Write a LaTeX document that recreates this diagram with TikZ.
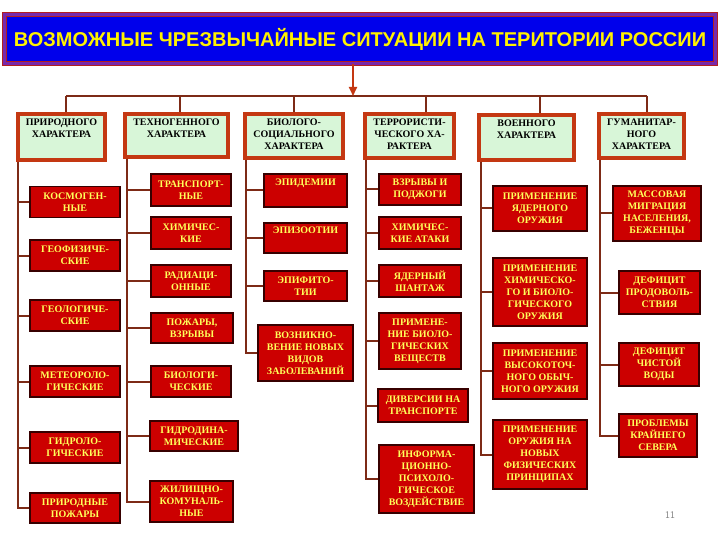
\documentclass[tikz,border=0pt]{standalone}
\usepackage{fontspec}
\setmainfont{Liberation Serif}
\newfontfamily\titlefont{Liberation Sans}
\usetikzlibrary{arrows.meta}

\definecolor{titleblue}{RGB}{0,0,235}
\definecolor{titlered}{RGB}{180,30,30}
\definecolor{titleviolet}{RGB}{120,40,170}
\definecolor{catgreen}{RGB}{216,246,216}
\definecolor{catframe}{RGB}{196,56,18}
\definecolor{boxred}{RGB}{204,0,0}
\definecolor{boxedge}{RGB}{55,0,0}
\definecolor{boxtext}{RGB}{255,255,90}
\definecolor{linkbrown}{RGB}{125,42,22}

\newcommand{\busY}{96}
\newcommand{\boxfont}{\bfseries\fontsize{10}{12}\selectfont}

\tikzset{
  titlebox/.style={fill=titleblue, draw=titlered, double=titleviolet, double distance=2.5pt,
                   line width=1pt, text=yellow, font=\titlefont\bfseries\fontsize{20}{24}\selectfont},
  catbox/.style={fill=catgreen, draw=catframe, line width=3.8pt},
  cattext/.style={anchor=north, yshift=-3pt, align=center, text=black, font=\boxfont},
  subbox/.style={fill=boxred, draw=boxedge, line width=1.8pt, text=boxtext,
                 align=center, inner sep=1pt, font=\boxfont},
  topline/.style={text depth=16pt},
  link/.style={draw=linkbrown, line width=2pt},
  arrowlink/.style={draw=catframe, line width=2pt, -{Triangle[width=8pt,length=9pt]}},
  pagenum/.style={text=gray, font=\sffamily\fontsize{10}{12}\selectfont}
}

\begin{document}
\begin{tikzpicture}[x=1pt, y=-1pt]

  \fill[white] (0,0) rectangle (720,540);
  \useasboundingbox (0,0) rectangle (720,540);

  % Title:
  \node[titlebox, minimum width=711pt, minimum height=49pt] (title) at (360,39)
    {ВОЗМОЖНЫЕ ЧРЕЗВЫЧАЙНЫЕ СИТУАЦИИ НА ТЕРИТОРИИ РОССИИ};

  % Categories:
  \node[catbox, minimum width=87pt,  minimum height=46pt, label={[cattext]north:ПРИРОДНОГО\\ХАРАКТЕРА}] (c1) at (61.5,137) {};
  \node[catbox, minimum width=103pt, minimum height=43pt, label={[cattext]north:ТЕХНОГЕННОГО\\ХАРАКТЕРА}] (c2) at (176.5,135.5) {};
  \node[catbox, minimum width=98pt,  minimum height=44pt, label={[cattext]north:БИОЛОГО-\\СОЦИАЛЬНОГО\\ХАРАКТЕРА}] (c3) at (294,136) {};
  \node[catbox, minimum width=89pt,  minimum height=44pt, label={[cattext]north:ТЕРРОРИСТИ-\\ЧЕСКОГО ХА-\\РАКТЕРА}] (c4) at (409.5,136) {};
  \node[catbox, minimum width=95pt,  minimum height=45pt, label={[cattext]north:ВОЕННОГО\\ХАРАКТЕРА}] (c5) at (526.5,137.5) {};
  \node[catbox, minimum width=85pt,  minimum height=44pt, label={[cattext]north:ГУМАНИТАР-\\НОГО\\ХАРАКТЕРА}] (c6) at (641.5,136) {};

  % Natural:
  \node[subbox, minimum width=90pt, minimum height=31pt] (k1) at (75,202)   {КОСМОГЕН-\\НЫЕ};
  \node[subbox, minimum width=90pt, minimum height=31pt] (k2) at (75,255.5) {ГЕОФИЗИЧЕ-\\СКИЕ};
  \node[subbox, minimum width=90pt, minimum height=31pt] (k3) at (75,315.5) {ГЕОЛОГИЧЕ-\\СКИЕ};
  \node[subbox, minimum width=90pt, minimum height=31pt] (k4) at (75,381.5) {МЕТЕОРОЛО-\\ГИЧЕСКИЕ};
  \node[subbox, minimum width=90pt, minimum height=31pt] (k5) at (75,447.5) {ГИДРОЛО-\\ГИЧЕСКИЕ};
  \node[subbox, minimum width=90pt, minimum height=30pt] (k6) at (75,508)   {ПРИРОДНЫЕ\\ПОЖАРЫ};

  % Technogenic:
  \node[subbox, minimum width=80pt, minimum height=32pt] (t1) at (191,190)    {ТРАНСПОРТ-\\НЫЕ};
  \node[subbox, minimum width=80pt, minimum height=32pt] (t2) at (191,233)    {ХИМИЧЕС-\\КИЕ};
  \node[subbox, minimum width=80pt, minimum height=32pt] (t3) at (191,281)    {РАДИАЦИ-\\ОННЫЕ};
  \node[subbox, minimum width=82pt, minimum height=30pt] (t4) at (192,328)    {ПОЖАРЫ,\\ВЗРЫВЫ};
  \node[subbox, minimum width=80pt, minimum height=31pt] (t5) at (191,381.5)  {БИОЛОГИ-\\ЧЕСКИЕ};
  \node[subbox, minimum width=88pt, minimum height=30pt] (t6) at (194,436)    {ГИДРОДИНА-\\МИЧЕСКИЕ};
  \node[subbox, minimum width=83pt, minimum height=41pt] (t7) at (191.5,501.5){ЖИЛИЩНО-\\КОМУНАЛЬ-\\НЫЕ};

  % Bio-social:
  \node[subbox, topline, minimum width=83pt, minimum height=33pt] (b1) at (305.5,190.5) {ЭПИДЕМИИ};
  \node[subbox, topline, minimum width=83pt, minimum height=30pt] (b2) at (305.5,238)   {ЭПИЗООТИИ};
  \node[subbox, minimum width=83pt, minimum height=30pt] (b3) at (305.5,286)   {ЭПИФИТО-\\ТИИ};
  \node[subbox, minimum width=95pt, minimum height=56pt] (b4) at (305.5,353)   {ВОЗНИКНО-\\ВЕНИЕ НОВЫХ\\ВИДОВ\\ЗАБОЛЕВАНИЙ};

  % Terrorist:
  \node[subbox, minimum width=82pt, minimum height=31pt] (r1) at (420,189.5) {ВЗРЫВЫ И\\ПОДЖОГИ};
  \node[subbox, minimum width=82pt, minimum height=32pt] (r2) at (420,233)   {ХИМИЧЕС-\\КИЕ АТАКИ};
  \node[subbox, minimum width=82pt, minimum height=32pt] (r3) at (420,281)   {ЯДЕРНЫЙ\\ШАНТАЖ};
  \node[subbox, minimum width=82pt, minimum height=56pt] (r4) at (420,341)   {ПРИМЕНЕ-\\НИЕ БИОЛО-\\ГИЧЕСКИХ\\ВЕЩЕСТВ};
  \node[subbox, minimum width=90pt, minimum height=33pt] (r5) at (423,405.5) {ДИВЕРСИИ НА\\ТРАНСПОРТЕ};
  \node[subbox, minimum width=95pt, minimum height=68pt] (r6) at (426.5,479) {ИНФОРМА-\\ЦИОННО-\\ПСИХОЛО-\\ГИЧЕСКОЕ\\ВОЗДЕЙСТВИЕ};

  % Military:
  \node[subbox, minimum width=94pt, minimum height=45pt] (m1) at (540,208.5) {ПРИМЕНЕНИЕ\\ЯДЕРНОГО\\ОРУЖИЯ};
  \node[subbox, minimum width=94pt, minimum height=68pt] (m2) at (540,292)   {ПРИМЕНЕНИЕ\\ХИМИЧЕСКО-\\ГО И БИОЛО-\\ГИЧЕСКОГО\\ОРУЖИЯ};
  \node[subbox, minimum width=94pt, minimum height=56pt] (m3) at (540,371)   {ПРИМЕНЕНИЕ\\ВЫСОКОТОЧ-\\НОГО ОБЫЧ-\\НОГО ОРУЖИЯ};
  \node[subbox, minimum width=94pt, minimum height=69pt] (m4) at (540,454.5) {ПРИМЕНЕНИЕ\\ОРУЖИЯ НА\\НОВЫХ\\ФИЗИЧЕСКИХ\\ПРИНЦИПАХ};

  % Humanitarian:
  \node[subbox, minimum width=88pt, minimum height=55pt] (g1) at (657,213.5)   {МАССОВАЯ\\МИГРАЦИЯ\\НАСЕЛЕНИЯ,\\БЕЖЕНЦЫ};
  \node[subbox, minimum width=81pt, minimum height=43pt] (g2) at (659.5,292.5) {ДЕФИЦИТ\\ПРОДОВОЛЬ-\\СТВИЯ};
  \node[subbox, minimum width=80pt, minimum height=43pt] (g3) at (659,364.5)   {ДЕФИЦИТ\\ЧИСТОЙ\\ВОДЫ};
  \node[subbox, minimum width=78pt, minimum height=43pt] (g4) at (658,435.5)   {ПРОБЛЕМЫ\\КРАЙНЕГО\\СЕВЕРА};

  \node[pagenum] (pnum) at (670,515) {11};

  % Bus:
  \coordinate (d1) at (66,\busY);
  \coordinate (d2) at (180,\busY);
  \coordinate (d3) at (294,\busY);
  \coordinate (d4) at (426,\busY);
  \coordinate (d5) at (540,\busY);
  \coordinate (d6) at (647,\busY);
  \draw[link] (d1) -- (d6);
  \foreach \i in {1,...,6}
    \draw[link] (d\i) -- (d\i |- c\i.north);
  \draw[arrowlink] ([xshift=-7pt]title.south) -- ([xshift=-7pt]title.south |- d1);

  % Trees:
    % column lines
    \coordinate (v1) at (18,0);
    \coordinate (v2) at (127,0);
    \coordinate (v3) at (246,0);
    \coordinate (v4) at (366,0);
    \coordinate (v5) at (481,0);
    \coordinate (v6) at (600,0);
    % stubs
    \foreach \s in {k1,k2,k3,k4,k5,k6}    \draw[link] (c1.south -| v1) |- (\s.west);
    \foreach \s in {t1,t2,t3,t4,t5,t6,t7} \draw[link] (c2.south -| v2) |- (\s.west);
    \foreach \s in {b1,b2,b3,b4}          \draw[link] (c3.south -| v3) |- (\s.west);
    \foreach \s in {r1,r2,r3,r4,r5,r6}    \draw[link] (c4.south -| v4) |- (\s.west);
    \foreach \s in {m1,m2,m3,m4}          \draw[link] (c5.south -| v5) |- (\s.west);
    \foreach \s in {g1,g2,g3,g4}          \draw[link] (c6.south -| v6) |- (\s.west);

\end{tikzpicture}
\end{document}
